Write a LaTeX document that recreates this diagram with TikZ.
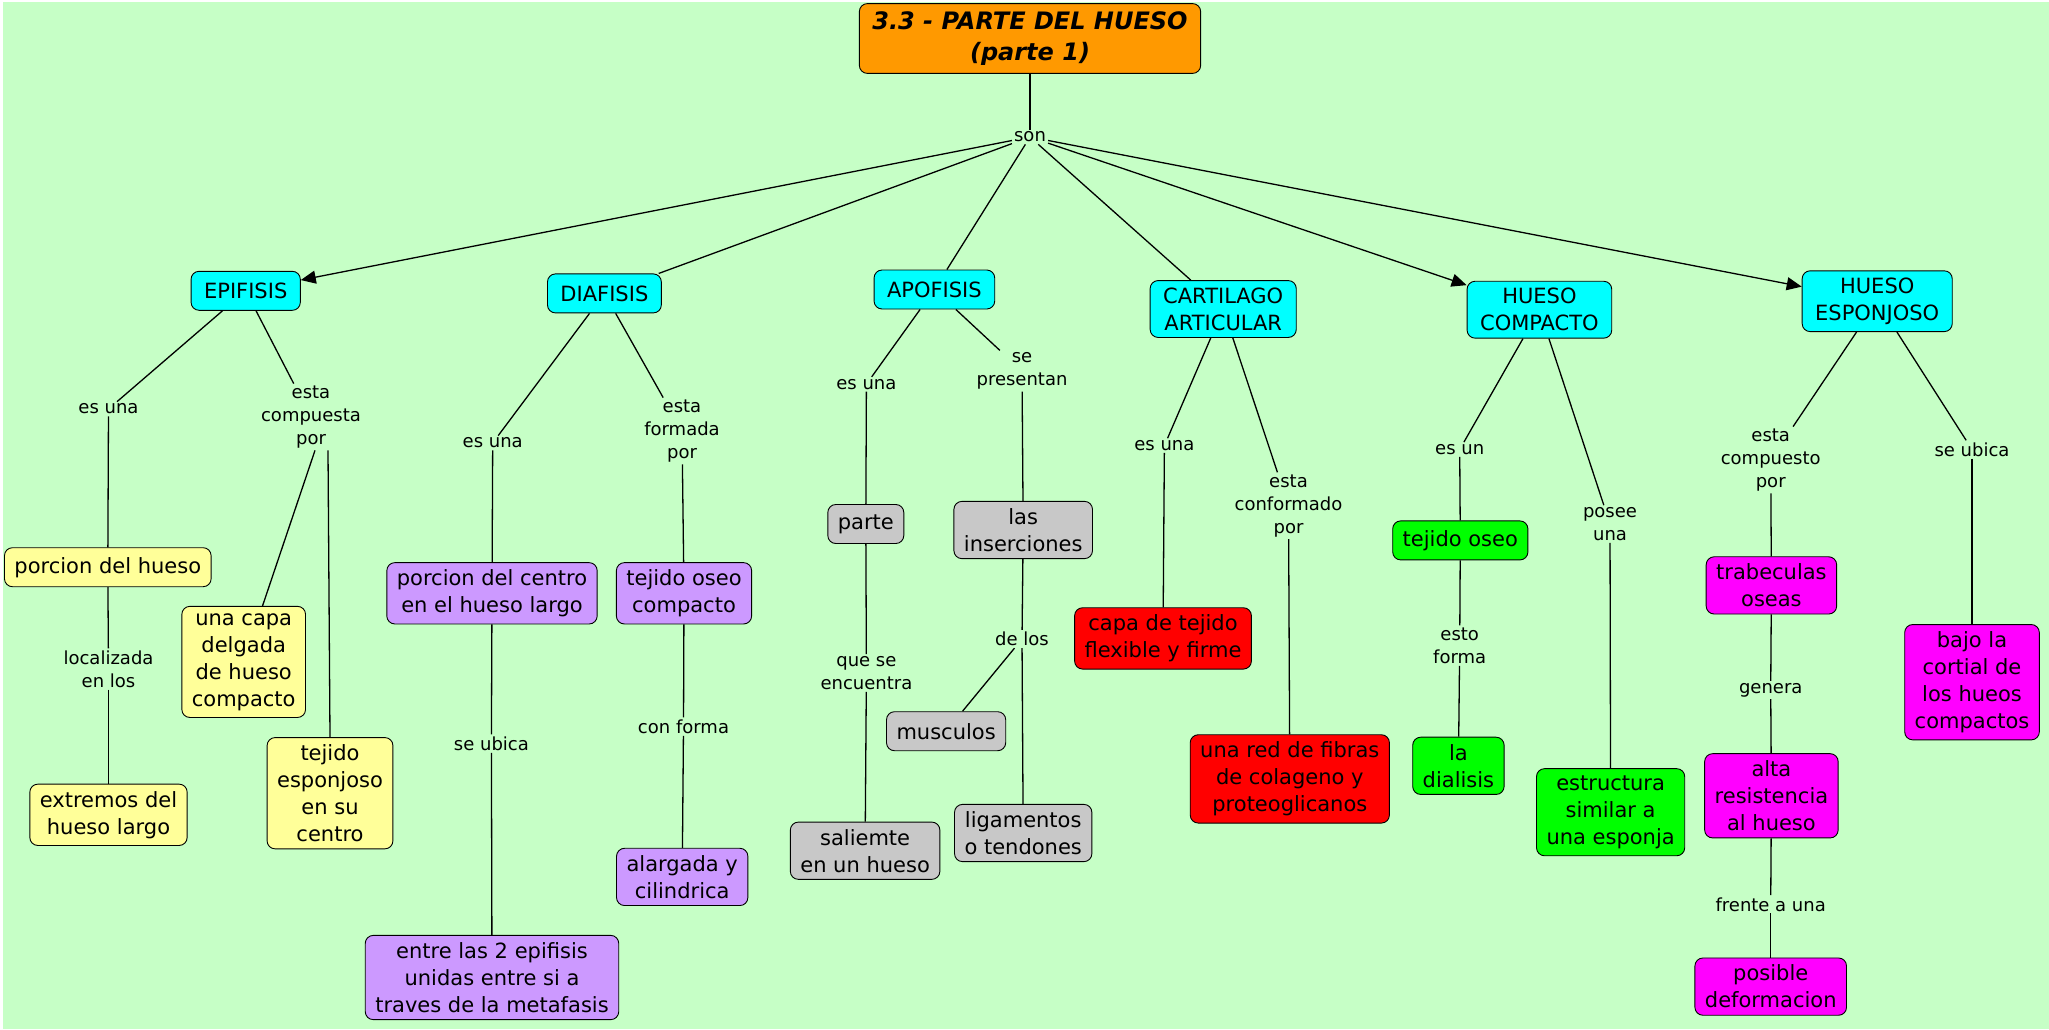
\documentclass[tikz,border=0pt]{standalone}
\usepackage{fontspec}
\setmainfont{DejaVu Sans}
\usetikzlibrary{arrows.meta}
\definecolor{fondo}{RGB}{198,255,198}
\definecolor{naranja}{RGB}{255,153,0}
\definecolor{cian}{RGB}{0,255,255}
\definecolor{amarillo}{RGB}{255,255,153}
\definecolor{morado}{RGB}{204,153,255}
\definecolor{gris}{RGB}{200,200,200}
\definecolor{rojo}{RGB}{255,0,0}
\definecolor{verde}{RGB}{0,255,0}
\definecolor{magenta}{RGB}{255,0,255}
\tikzset{concepto/.style={draw=black, rounded corners=8pt, align=center, inner xsep=10pt, inner ysep=7pt, minimum height=39pt, line width=0.9pt, font=\fontsize{21}{27}\selectfont}}
\tikzset{principal/.style={concepto, fill=cian, inner xsep=13pt}}
\tikzset{enlace/.style={align=center, inner sep=2pt, font=\fontsize{18}{23}\selectfont}}
\tikzset{titulo/.style={concepto, fill=naranja, inner xsep=13pt, inner ysep=8pt, font=\fontsize{24}{31}\selectfont\bfseries\itshape}}
\tikzset{conector/.style={draw=black, line width=1.3pt}}
\tikzset{flecha/.style={conector, -{Triangle[length=15pt,width=13pt]}}}

\begin{document}
\begin{tikzpicture}[x=1pt,y=-1pt]
\useasboundingbox (0,0) rectangle (2049,1029);
\fill[fondo] (3,2) rectangle (2049,1029);

\node[titulo] (titulo) at (1030,38.5) {3.3 - PARTE DEL HUESO\\(parte 1)};
\node[enlace] (son) at (1030,137) {son};

\node[principal] (epi) at (245.7,290.8) {EPIFISIS};
\node[principal] (dia) at (604.4,293.4) {DIAFISIS};
\node[principal] (apo) at (934.4,289.5) {APOFISIS};
\node[principal] (car) at (1223.2,309) {CARTILAGO\\ARTICULAR};
\node[principal] (hcomp) at (1539.4,309.7) {HUESO\\COMPACTO};
\node[principal] (hesp) at (1877.2,301.2) {HUESO\\ESPONJOSO};

\node[enlace] (epi1) at (108.5,409) {es una};
\node[concepto, fill=amarillo] (porcion) at (107.8,567.2) {porcion del hueso};
\node[enlace] (epi2) at (108.5,669) {localizada\\en los};
\node[concepto, fill=amarillo] (extremos) at (108.5,814.8) {extremos del\\hueso largo};
\node[enlace] (epi3) at (311,417) {esta\\compuesta\\por};
\node[concepto, fill=amarillo] (capa) at (243.7,661.9) {una capa\\delgada\\de hueso\\compacto};
\node[concepto, fill=amarillo] (esponjoso) at (330,793.2) {tejido\\esponjoso\\en su\\centro};

\node[enlace] (dia1) at (492.7,443) {es una};
\node[concepto, fill=morado] (centro) at (492,593.3) {porcion del centro\\en el hueso largo};
\node[enlace] (dia2) at (491.4,743.6) {se ubica};
\node[concepto, fill=morado] (entre) at (492,977.5) {entre las 2 epifisis\\unidas entre si a\\traves de la metafasis};
\node[enlace] (dia3) at (682,431) {esta\\formada\\por};
\node[concepto, fill=morado] (compacto) at (684,593.3) {tejido oseo\\compacto};
\node[enlace] (dia4) at (683.5,726.6) {con forma};
\node[concepto, fill=morado] (alargada) at (682.2,876.9) {alargada y\\cilindrica};

\node[enlace] (apo1) at (866.4,384.2) {es una};
\node[concepto, fill=gris] (parte) at (865.8,524) {parte};
\node[enlace] (apo2) at (866.4,673) {que se\\encuentra};
\node[concepto, fill=gris] (saliente) at (865.1,850.7) {saliemte\\en un hueso};
\node[enlace] (apo3) at (1022,371) {se\\presentan};
\node[concepto, fill=gris] (inserciones) at (1023.2,530) {las\\inserciones};
\node[enlace] (apo4) at (1022,639) {de los};
\node[concepto, fill=gris] (musculos) at (946.1,731.2) {musculos};
\node[concepto, fill=gris] (ligamentos) at (1023.2,833) {ligamentos\\o tendones};

\node[enlace] (car1) at (1164.4,445.6) {es una};
\node[concepto, fill=rojo] (flexible) at (1163,638.4) {capa de tejido\\flexible y firme};
\node[enlace] (car2) at (1288.5,505.7) {esta\\conformado\\por};
\node[concepto, fill=rojo] (fibras) at (1289.8,778.9) {una red de fibras\\de colageno y\\proteoglicanos};

\node[enlace] (hc1) at (1459.7,449.5) {es un};
\node[concepto, fill=verde] (oseo) at (1460.3,540.4) {tejido oseo};
\node[enlace] (hc2) at (1459.7,645.6) {esto\\forma};
\node[concepto, fill=verde] (dialisis) at (1458.4,765.8) {la\\dialisis};
\node[enlace] (hc3) at (1610,524) {posee\\una};
\node[concepto, fill=verde] (estructura) at (1610.6,812.2) {estructura\\similar a\\una esponja};

\node[enlace] (he1) at (1770.7,460) {esta\\compuesto\\por};
\node[concepto, fill=magenta] (trabeculas) at (1771.4,585.4) {trabeculas\\oseas};
\node[enlace] (he2) at (1770.7,690) {genera};
\node[concepto, fill=magenta] (alta) at (1771.4,795.8) {alta\\resistencia\\al hueso};
\node[enlace] (he3) at (1770.7,904.3) {frente a una};
\node[concepto, fill=magenta] (posible) at (1770.7,986.6) {posible\\deformacion};
\node[enlace] (he4) at (1972,449.5) {se ubica};
\node[concepto, fill=magenta] (bajo) at (1972,682.2) {bajo la\\cortial de\\los hueos\\compactos};

\draw[conector] (titulo) -- (son);
\foreach \hijo in {epi,hcomp,hesp}
  \draw[flecha] (son) -- (\hijo);
\foreach \hijo in {dia,apo,car}
  \draw[conector] (son) -- (\hijo);
\foreach \a/\b in {epi/epi1, epi1/porcion, porcion/epi2, epi2/extremos, epi/epi3,
  dia/dia1, dia1/centro, centro/dia2, dia2/entre, dia/dia3, dia3/compacto, compacto/dia4, dia4/alargada,
  apo/apo1, apo1/parte, parte/apo2, apo2/saliente, apo/apo3, apo3/inserciones, inserciones/apo4, apo4/musculos, apo4/ligamentos,
  car/car1, car1/flexible, car/car2, car2/fibras,
  hcomp/hc1, hc1/oseo, oseo/hc2, hc2/dialisis, hcomp/hc3, hc3/estructura,
  hesp/he1, he1/trabeculas, trabeculas/he2, he2/alta, alta/he3, he3/posible, hesp/he4, he4/bajo}
  \draw[conector] (\a) -- (\b);
\draw[conector] ([xshift=4pt]epi3.south) -- (capa);
\draw[conector] ([xshift=17pt]epi3.south) -- (esponjoso.north);
\end{tikzpicture}
\end{document}
